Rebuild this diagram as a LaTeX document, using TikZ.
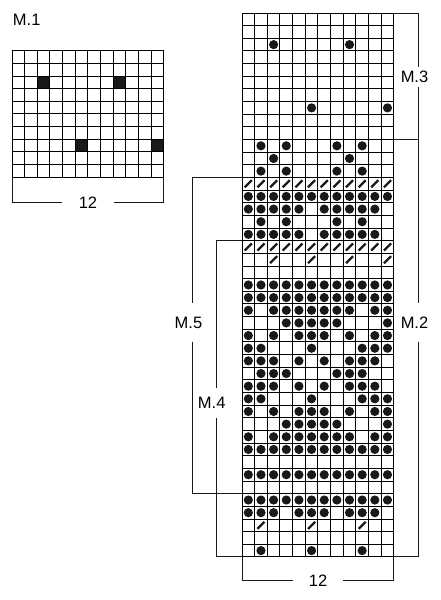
\documentclass[tikz,border=0pt]{standalone}
\usepackage{fontspec}
\setmainfont{Liberation Sans}

\begin{document}
\begin{tikzpicture}[
    x=1pt, y=-1pt,
    gridline/.style={line width=0.95pt, black, line cap=rect},
    bracket/.style={line width=0.95pt, black!90},
    marker/.style={font=\fontsize{16.5}{18}\selectfont, inner sep=0pt},
    purl/.style={fill=black!90},
    slash/.style={line width=2.3pt, black!90}
]
\useasboundingbox (0,0) rectangle (441,600);

% M.1
\begin{scope}[shift={(12,50.7)}, x=12.65pt, y=-12.65pt]
    \foreach \c/\r in {2/2, 8/2, 5/7, 11/7}
        \fill[purl] (\c,\r) rectangle ++(1,1);
    \foreach \i in {0,...,12}
        \draw[gridline] (\i,0) -- (\i,10);
    \foreach \j in {0,...,10}
        \draw[gridline] (0,\j) -- (12,\j);
    \coordinate (oneleft) at (0,10);
    \coordinate (oneright) at (12,10);
\end{scope}

% M.2 to M.5
\begin{scope}[shift={(242,13)}, x=12.65pt, y=-12.65pt]
    \foreach \r/\cl in {2/{2,8}, 7/{5,11}, 10/{1,3,7,9}, 11/{2,8}, 12/{1,3,7,9},
        14/{0,...,11}, 15/{0,1,2,3,4,6,7,8,9,10}, 16/{1,3,7,9},
        17/{0,1,2,3,4,6,7,8,9,10}, 21/{0,...,11}, 22/{0,...,11},
        23/{0,2,3,4,5,6,7,8,10,11}, 24/{3,4,5,6,7,11}, 25/{0,2,4,5,6,8,10,11},
        26/{0,1,5,9,10,11}, 27/{0,1,2,4,6,8,9,10}, 28/{1,2,3,7,8,9},
        29/{0,1,2,4,6,8,9,10}, 30/{0,1,5,9,10,11}, 31/{0,2,4,5,6,8,10,11},
        32/{3,4,5,6,7,11}, 33/{0,2,3,4,5,6,7,8,10,11}, 34/{0,...,11},
        36/{0,...,11}, 38/{0,...,11}, 39/{0,1,2,4,5,6,8,9,10}, 42/{1,5,9}}
        \foreach \c in \cl
            \fill[purl] (\c+0.5,\r+0.5) circle (4.6pt);
    \foreach \r/\cl in {13/{0,...,11}, 18/{0,...,11}, 19/{2,5,8,11}, 40/{1,5,9}}
        \foreach \c in \cl
            \draw[slash] (\c+0.22,\r+0.78) -- (\c+0.78,\r+0.22);
    \foreach \i in {0,...,12}
        \draw[gridline] (\i,0) -- (\i,43);
    \foreach \j in {0,...,43}
        \draw[gridline] (0,\j) -- (12,\j);
    \coordinate (topright) at (12,0);
    \coordinate (rowten) at (12,10);
    \coordinate (rowthirteen) at (0,13);
    \coordinate (roweighteen) at (0,18);
    \coordinate (rowthirtyeight) at (0,38);
    \coordinate (botleft) at (0,43);
    \coordinate (botright) at (12,43);
\end{scope}

\node[marker] (mone) at (26.7,20) {M.1};
\node[marker, minimum height=20pt] (mthree) at (414.5,77) {M.3};
\node[marker, minimum height=38pt] (mtwo) at (414.5,322.5) {M.2};
\node[marker, minimum height=38pt] (mfive) at (188.5,322.5) {M.5};
\node[marker, minimum height=30pt] (mfour) at (211.7,403) {M.4};
\node[marker, minimum width=51pt] (widthone) at (88,202.5) {12};
\node[marker, minimum width=50pt] (widthtwo) at (318,580.5) {12};

\coordinate (rline) at (418.3,0);
\coordinate (fiveline) at (192.3,0);
\coordinate (fourline) at (216.7,0);

% right brackets
\draw[bracket] (mthree.north -| rline) -- (topright -| rline) -- (topright);
\draw[bracket] (mthree.south -| rline) -- (rowten -| rline) -- (rowten);
\draw[bracket] (rowten -| rline) -- (mtwo.north -| rline);
\draw[bracket] (mtwo.south -| rline) -- (botright -| rline) -- (botright);

% left brackets
\draw[bracket] (rowthirteen) -- (rowthirteen -| fiveline) -- (mfive.north -| fiveline);
\draw[bracket] (mfive.south -| fiveline) -- (rowthirtyeight -| fiveline) -- (rowthirtyeight);
\draw[bracket] (roweighteen) -- (roweighteen -| fourline) -- (mfour.north -| fourline);
\draw[bracket] (mfour.south -| fourline) -- (botleft -| fourline) -- (botleft);

% stitch counts
\draw[bracket] (widthone.west) -- (widthone.west -| oneleft) -- (oneleft);
\draw[bracket] (widthone.east) -- (widthone.east -| oneright) -- (oneright);
\draw[bracket] (widthtwo.west) -- (widthtwo.west -| botleft) -- (botleft);
\draw[bracket] (widthtwo.east) -- (widthtwo.east -| botright) -- (botright);
\end{tikzpicture}
\end{document}
